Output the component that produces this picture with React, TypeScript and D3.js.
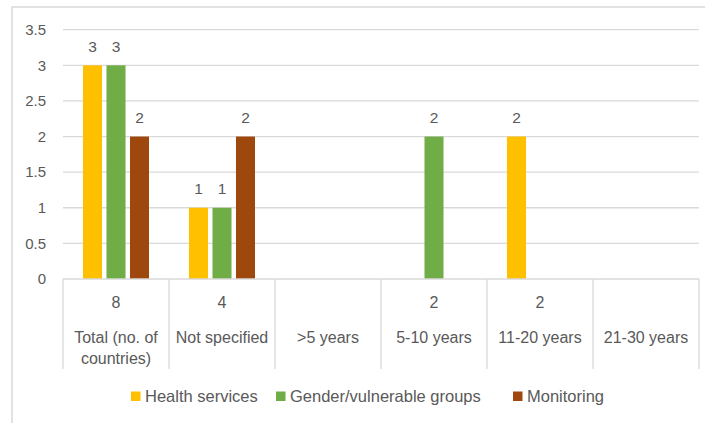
import React from 'react';
import * as d3 from 'd3';

// categories along the x axis, split into the lines shown in the table row
const categories = ['Total (no. of countries)', 'Not specified', '>5 years', '5-10 years', '11-20 years', '21-30 years'];
const categoryLines = [['Total (no. of', 'countries)'], ['Not specified'], ['>5 years'], ['5-10 years'], ['11-20 years'], ['21-30 years']];
const countryCounts = ['8', '4', '', '2', '2', ''];

const seriesNames = ['Health services', 'Gender/vulnerable groups', 'Monitoring'];
const healthServices = [3, 1, null, null, 2, null];
const genderGroups = [3, 1, null, 2, null, null];
const monitoring = [2, 2, null, null, null, null];
const yTicks = [0, 0.5, 1, 1.5, 2, 2.5, 3, 3.5];

const colors = ['#FFC000', '#70AD47', '#9E480E'];
const seriesValues = [healthServices, genderGroups, monitoring];

const W = 705;
const H = 423;
const plot = { left: 63, right: 699, top: 29.7, bottom: 279 };
const tableBottom = 369;
const font = '"Liberation Sans", Arial, sans-serif';
const textColor = '#595959';

export default function App() {
    const x0 = d3.scaleBand<string>().domain(categories).range([plot.left, plot.right]).padding(0);
    const x1 = d3.scaleBand<string>()
        .domain(seriesNames)
        .range([20, x0.bandwidth() - 20])
        .paddingInner(0.19);
    const y = d3.scaleLinear().domain([0, 3.5]).range([plot.bottom, plot.top]);

    const legendX = [131, 276, 513];

    return (
        <svg width={W} height={H} style={{ position: 'absolute', left: 0, top: 0, fontFamily: font }}>
            <rect x={0} y={0} width={W} height={H} fill="#fff" />
            {/* chart frame */}
            <rect x={12} y={7} width={W + 10} height={H + 10} fill="none" stroke="#D9D9D9" strokeWidth={1.5} />

            {/* gridlines + y labels */}
            {yTicks.map(t => (
                <g key={t}>
                    {t > 0 && (
                        <line x1={plot.left} x2={plot.right} y1={y(t)} y2={y(t)} stroke="#D9D9D9" strokeWidth={1.3} />
                    )}
                    <text x={46} y={y(t)} dy="0.35em" textAnchor="end" fontSize={15} fill={textColor}>{t}</text>
                </g>
            ))}

            {/* bars */}
            {seriesValues.map((vals, si) =>
                vals.map((v, ci) => v == null ? null : (
                    <g key={`${si}-${ci}`}>
                        <rect
                            x={(x0(categories[ci]) as number) + (x1(seriesNames[si]) as number)}
                            y={y(v)}
                            width={x1.bandwidth()}
                            height={plot.bottom - y(v)}
                            fill={colors[si]}
                        />
                        <text
                            x={(x0(categories[ci]) as number) + (x1(seriesNames[si]) as number) + x1.bandwidth() / 2}
                            y={y(v) - 19}
                            dy="0.35em"
                            textAnchor="middle"
                            fontSize={15.5}
                            fill={textColor}
                        >{v}</text>
                    </g>
                ))
            )}

            {/* data table under axis */}
            <line x1={plot.left} x2={plot.right} y1={plot.bottom} y2={plot.bottom} stroke="#D9D9D9" strokeWidth={1.3} />
            {[...categories.map(c => x0(c) as number), plot.right].map((xv, i) => (
                <line key={i} x1={xv} x2={xv} y1={plot.bottom} y2={tableBottom} stroke="#D9D9D9" strokeWidth={1.3} />
            ))}
            {categories.map((c, i) => {
                const cx = (x0(c) as number) + x0.bandwidth() / 2;
                return (
                    <g key={c} fontSize={16} fill={textColor} textAnchor="middle">
                        <text x={cx} y={302} dy="0.35em">{countryCounts[i]}</text>
                        {categoryLines[i].map((ln, li) => (
                            <text key={li} x={cx} y={337 + li * 21} dy="0.35em">{ln}</text>
                        ))}
                    </g>
                );
            })}

            {/* legend */}
            {seriesNames.map((s, i) => (
                <g key={s}>
                    <rect x={legendX[i]} y={391.5} width={9.5} height={9.5} fill={colors[i]} />
                    <text x={legendX[i] + 14} y={396} dy="0.35em" fontSize={16.5} fill={textColor}>{s}</text>
                </g>
            ))}
        </svg>
    );
}
